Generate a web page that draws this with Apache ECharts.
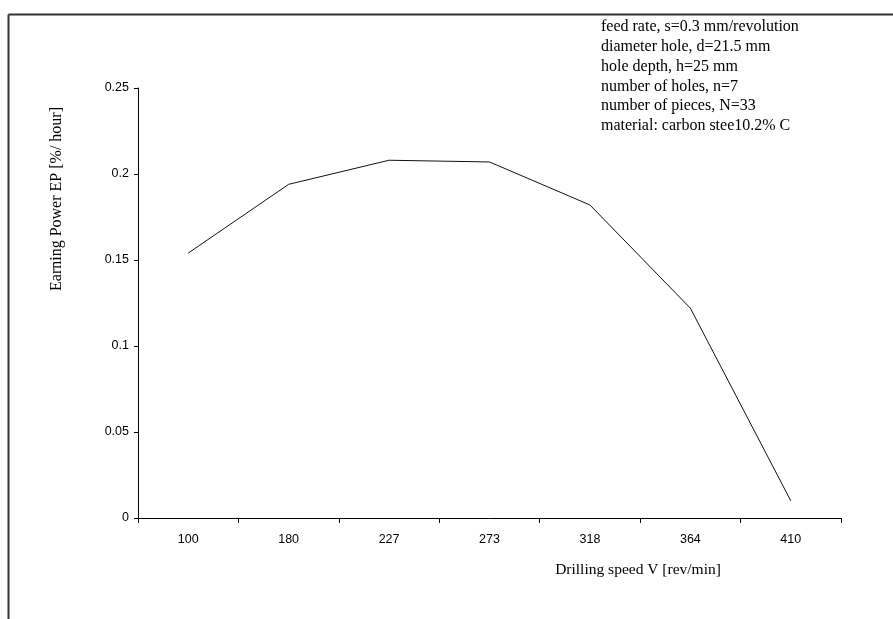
<!DOCTYPE html>
<html>
<head>
<meta charset="utf-8">
<script src="https://cdn.jsdelivr.net/npm/echarts@6/dist/echarts.min.js"></script>
<style>html,body{margin:0;padding:0;background:#fff}#c{width:893px;height:619px}</style>
</head>
<body>
<div id="c"></div>
<script>
var categories = ['100', '180', '227', '273', '318', '364', '410'];
var earningPower = [0.154, 0.194, 0.208, 0.207, 0.182, 0.122, 0.01];
var yTicks = [0, 0.05, 0.1, 0.15, 0.2, 0.25];
var notes = [
  'feed rate, s=0.3 mm/revolution',
  'diameter hole, d=21.5 mm',
  'hole depth, h=25 mm',
  'number of holes, n=7',
  'number of pieces, N=33',
  'material: carbon stee10.2% C'
];
var xTitle = 'Drilling speed V [rev/min]';
var yTitle = 'Earning Power EP [%/ hour]';

var chart = echarts.init(document.getElementById('c'));
var serif = '"Liberation Serif", "Times New Roman", serif';
var sans = '"Liberation Sans", Arial, sans-serif';
var graphics = [
  {type:'line', shape:{x1:8.5,y1:14.5,x2:893,y2:14.5}, style:{stroke:'#333',lineWidth:2}},
  {type:'line', shape:{x1:8.5,y1:14.5,x2:8.5,y2:619}, style:{stroke:'#333',lineWidth:2}},
  {type:'text', x:638, y:570, style:{text:xTitle, font:'15.5px '+serif, fill:'#000', align:'center', verticalAlign:'middle'}},
  {type:'text', x:57, y:199, rotation:Math.PI/2, style:{text:yTitle, font:'16px '+serif, fill:'#000', align:'center', verticalAlign:'middle'}}
];
notes.forEach(function(t, i){
  graphics.push({type:'text', x:601, y:27 + i*19.8, style:{text:t, font:'16px '+serif, fill:'#000', align:'left', verticalAlign:'middle'}});
});

chart.setOption({
  animation:false,
  backgroundColor:'#fff',
  grid:{left:138, right:52, top:88, bottom:101, containLabel:false},
  xAxis:{
    type:'category', data:categories, boundaryGap:true,
    axisLine:{lineStyle:{color:'#000', width:1}},
    axisTick:{show:true, length:5, inside:false, lineStyle:{color:'#000'}},
    axisLabel:{color:'#000', fontFamily:sans, fontSize:12.5, margin:15},
    splitLine:{show:false}
  },
  yAxis:{
    type:'value', min:yTicks[0], max:yTicks[yTicks.length-1], interval:0.05,
    axisLine:{show:true, lineStyle:{color:'#000', width:1}},
    axisTick:{show:true, length:4, lineStyle:{color:'#000'}},
    axisLabel:{color:'#000', fontFamily:sans, fontSize:12.5, margin:9},
    splitLine:{show:false}
  },
  series:[{
    type:'line', data:earningPower, symbol:'none',
    lineStyle:{color:'#111', width:1}
  }],
  graphic:graphics
});
</script>
</body>
</html>
